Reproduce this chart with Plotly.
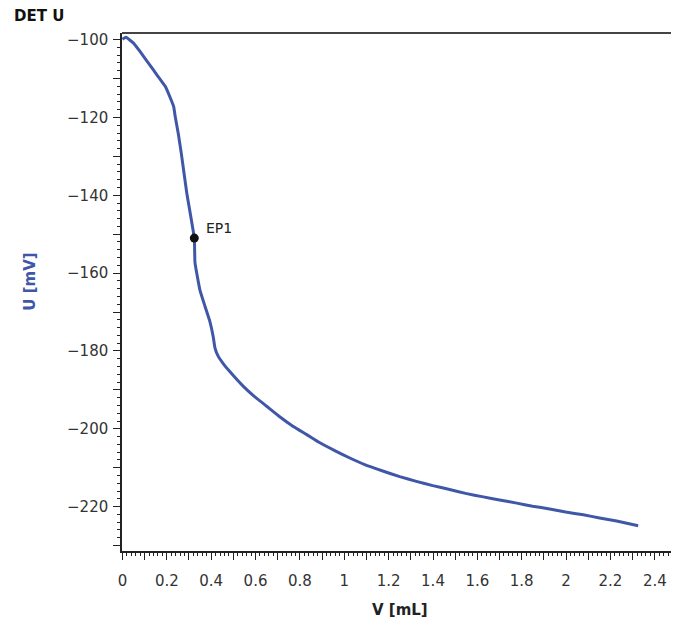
import plotly.graph_objects as go

# Titration curve data (volume in mL, potential in mV)
volume_ml = [0.0, 0.016, 0.05, 0.08, 0.118, 0.156, 0.194, 0.216, 0.231, 0.238,
             0.253, 0.265, 0.29, 0.324, 0.327, 0.349, 0.372, 0.394, 0.409, 0.417,
             0.432, 0.455, 0.484, 0.545, 0.597, 0.65, 0.709, 0.77, 0.831, 0.89,
             0.957, 1.025, 1.092, 1.177, 1.25, 1.325, 1.399, 1.475, 1.547, 1.627,
             1.7, 1.778, 1.849, 1.926, 1.998, 2.078, 2.151, 2.228, 2.325]
potential_mv = [-99.9, -99.4, -100.9, -103.1, -106.1, -109.1, -112.1, -115.0, -117.2, -119.8,
                -124.6, -129.1, -139.4, -151.0, -157.3, -164.3, -168.5, -172.4, -176.3, -179.2,
                -181.4, -183.3, -185.3, -189.1, -191.8, -194.2, -196.9, -199.4, -201.5, -203.6,
                -205.6, -207.5, -209.2, -210.9, -212.3, -213.5, -214.6, -215.6, -216.6, -217.5,
                -218.3, -219.1, -219.9, -220.6, -221.4, -222.1, -222.9, -223.7, -224.9]

# End point
ep_label = "EP1"
ep_volume = [0.324]
ep_potential = [-151.0]

# Tick definitions
x_tick_vals = [0.0, 0.1, 0.2, 0.3, 0.4, 0.5, 0.6, 0.7, 0.8, 0.9, 1.0, 1.1, 1.2, 1.3,
               1.4, 1.5, 1.6, 1.7, 1.8, 1.9, 2.0, 2.1, 2.2, 2.3, 2.4, 2.5]
x_tick_text = ["0", "", "0.2", "", "0.4", "", "0.6", "", "0.8", "", "1", "", "1.2", "",
               "1.4", "", "1.6", "", "1.8", "", "2", "", "2.2", "", "2.4", ""]
y_tick_vals = [-100, -110, -120, -130, -140, -150, -160, -170, -180, -190, -200,
               -210, -220, -230]
y_tick_text = ["\u2212100", "", "\u2212120", "", "\u2212140", "", "\u2212160", "",
               "\u2212180", "", "\u2212200", "", "\u2212220", ""]

LINE_COLOR = "#4057a8"
FONT = "DejaVu Sans"

fig = go.Figure()
fig.add_trace(go.Scatter(
    x=volume_ml, y=potential_mv, mode="lines",
    line=dict(color=LINE_COLOR, width=3, shape="spline", smoothing=0.3),
    showlegend=False, hoverinfo="skip"))
fig.add_trace(go.Scatter(
    x=ep_volume, y=ep_potential, mode="markers",
    marker=dict(color="#111111", size=9),
    showlegend=False, hoverinfo="skip"))

fig.add_annotation(x=ep_volume[0], y=ep_potential[0], text=ep_label, showarrow=False,
                   xanchor="left", yanchor="middle", xshift=10, yshift=10,
                   font=dict(family=FONT, size=14, color="#222222"))

fig.update_xaxes(
    range=[-0.002, 2.5], tickmode="array", tickvals=x_tick_vals, ticktext=x_tick_text,
    ticks="outside", ticklen=7, tickwidth=1.3, tickcolor="#222222",
    showline=True, linecolor="#222222", linewidth=1.5,
    showgrid=False, zeroline=False,
    tickfont=dict(family=FONT, size=15, color="#333333"),
    ticklabelstandoff=8,
    minor=dict(dtick=0.02, ticks="outside", ticklen=3, tickwidth=1, tickcolor="#222222",
               showgrid=False))
fig.update_yaxes(
    range=[-231.4, -98.3], tickmode="array", tickvals=y_tick_vals, ticktext=y_tick_text,
    ticks="outside", ticklen=7, tickwidth=1.3, tickcolor="#222222",
    showline=True, linecolor="#222222", linewidth=1.5,
    showgrid=False, zeroline=False,
    tickfont=dict(family=FONT, size=15, color="#333333"),
    ticklabelstandoff=2,
    minor=dict(dtick=2, ticks="outside", ticklen=3, tickwidth=1, tickcolor="#222222",
               showgrid=False))

# Top and right frame lines
fig.add_shape(type="line", xref="paper", yref="paper", x0=0, x1=1, y0=1, y1=1,
              line=dict(color="#444444", width=2.2))
fig.add_shape(type="line", xref="paper", yref="paper", x0=1, x1=1, y0=0, y1=1,
              line=dict(color="#cccccc", width=1))

# Titles
fig.add_annotation(xref="paper", yref="paper", x=0.5, y=0, yshift=-59, text="<b>V [mL]</b>",
                   showarrow=False, xanchor="center", yanchor="middle",
                   font=dict(family=FONT, size=15, color="#222222"))
fig.add_annotation(xref="paper", yref="paper", x=0, xshift=-92, y=0.52, text="<b>U [mV]</b>",
                   showarrow=False, textangle=-90, xanchor="center", yanchor="middle",
                   font=dict(family=FONT, size=15, color=LINE_COLOR))
fig.add_annotation(xref="paper", yref="paper", x=0, xshift=-110, y=1, yshift=17, text="<b>DET U</b>",
                   showarrow=False, xanchor="left", yanchor="middle",
                   font=dict(family=FONT, size=15, color="#111111"))

fig.update_layout(
    width=679, height=633,
    margin=dict(l=114, r=10, t=25, b=90),
    paper_bgcolor="white", plot_bgcolor="white",
    font=dict(family=FONT),
)

fig.write_html("out.html")
